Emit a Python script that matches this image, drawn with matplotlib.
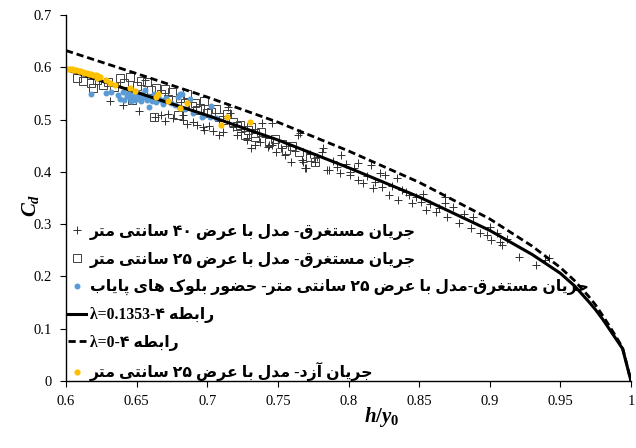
import matplotlib
matplotlib.use("Agg")
import matplotlib.pyplot as plt
from matplotlib.font_manager import FontProperties

# ---------------- data ----------------
curve_x = [0.6, 0.65, 0.7, 0.75, 0.8, 0.85, 0.9, 0.93, 0.95, 0.96, 0.97, 0.975, 0.98, 0.985, 0.99, 0.994, 1.0]
curve_l1353 = [0.596, 0.552, 0.508, 0.461, 0.408, 0.352, 0.288, 0.242, 0.206, 0.182, 0.152, 0.136, 0.118, 0.098, 0.078, 0.062, 0.0]
curve_l0 = [0.632, 0.588, 0.543, 0.495, 0.440, 0.380, 0.310, 0.258, 0.217, 0.192, 0.162, 0.145, 0.125, 0.104, 0.082, 0.064, 0.0]

sub40_x = [0.631, 0.640, 0.652, 0.656, 0.663, 0.667, 0.670, 0.672, 0.676, 0.683, 0.683, 0.686, 0.690,
           0.693, 0.697, 0.698, 0.701, 0.704, 0.708, 0.711, 0.715, 0.716, 0.718, 0.721, 0.724, 0.728,
           0.728, 0.731, 0.734, 0.737, 0.739, 0.741, 0.743, 0.744, 0.746, 0.746, 0.749, 0.752, 0.755,
           0.759, 0.762, 0.764, 0.766, 0.767, 0.768, 0.769, 0.770, 0.773, 0.776, 0.778, 0.781, 0.782,
           0.785, 0.786, 0.789, 0.792, 0.794, 0.795, 0.798, 0.801, 0.801, 0.804, 0.807, 0.807, 0.810,
           0.813, 0.816, 0.817, 0.819, 0.822, 0.824, 0.826, 0.829, 0.831, 0.834, 0.835, 0.838, 0.841,
           0.843, 0.845, 0.848, 0.851, 0.853, 0.855, 0.858, 0.862, 0.864, 0.868, 0.868, 0.870, 0.874,
           0.878, 0.882, 0.887, 0.888, 0.893, 0.898, 0.900, 0.901, 0.905, 0.907, 0.909, 0.912, 0.921,
           0.933, 0.939, 0.942]
sub40_y = [0.536, 0.528, 0.517, 0.576, 0.505, 0.508, 0.497, 0.511, 0.503, 0.499, 0.509, 0.492, 0.496,
           0.489, 0.486, 0.480, 0.488, 0.478, 0.470, 0.477, 0.524, 0.512, 0.486, 0.470, 0.476, 0.465,
           0.461, 0.445, 0.452, 0.458, 0.493, 0.467, 0.448, 0.451, 0.493, 0.451, 0.438, 0.446, 0.432,
           0.419, 0.440, 0.470, 0.474, 0.423, 0.419, 0.407, 0.407, 0.435, 0.418, 0.428, 0.438, 0.445,
           0.403, 0.403, 0.420, 0.410, 0.397, 0.432, 0.415, 0.394, 0.400, 0.408, 0.416, 0.384, 0.379,
           0.392, 0.413, 0.369, 0.380, 0.398, 0.371, 0.394, 0.356, 0.372, 0.388, 0.346, 0.366, 0.362,
           0.356, 0.340, 0.351, 0.343, 0.358, 0.327, 0.338, 0.324, 0.331, 0.352, 0.340, 0.314, 0.332,
           0.302, 0.320, 0.292, 0.314, 0.283, 0.279, 0.295, 0.270, 0.284, 0.266, 0.260, 0.272, 0.238,
           0.222, 0.231, 0.236]

sub25_x = [0.608, 0.612, 0.618, 0.619, 0.622, 0.626, 0.630, 0.634, 0.638, 0.641, 0.645, 0.647, 0.650,
           0.653, 0.657, 0.660, 0.662, 0.664, 0.667, 0.670, 0.672, 0.675, 0.679, 0.681, 0.684, 0.686,
           0.689, 0.691, 0.693, 0.695, 0.698, 0.700, 0.703, 0.706, 0.708, 0.711, 0.714, 0.718, 0.721,
           0.723, 0.727, 0.729, 0.731, 0.734, 0.734, 0.738, 0.744, 0.748, 0.753, 0.756, 0.760, 0.765,
           0.773, 0.776]
sub25_y = [0.579, 0.574, 0.569, 0.560, 0.576, 0.566, 0.572, 0.563, 0.579, 0.570, 0.582, 0.537, 0.565,
           0.574, 0.572, 0.556, 0.505, 0.561, 0.548, 0.559, 0.540, 0.552, 0.509, 0.541, 0.531, 0.548,
           0.525, 0.531, 0.518, 0.522, 0.536, 0.512, 0.515, 0.521, 0.505, 0.499, 0.511, 0.496, 0.488,
           0.489, 0.470, 0.480, 0.486, 0.474, 0.467, 0.476, 0.458, 0.462, 0.454, 0.442, 0.449, 0.438,
           0.429, 0.419]

blocks_x = [0.618, 0.628, 0.632, 0.637, 0.638, 0.640, 0.641, 0.643, 0.644, 0.645, 0.646, 0.647, 0.648,
            0.649, 0.650, 0.651, 0.652, 0.653, 0.654, 0.655, 0.656, 0.657, 0.658, 0.659, 0.660, 0.661,
            0.662, 0.663, 0.664, 0.665, 0.667, 0.669, 0.671, 0.674, 0.677, 0.679, 0.680, 0.681, 0.682,
            0.684, 0.688, 0.690, 0.696, 0.697, 0.702, 0.703, 0.706]
blocks_y = [0.548, 0.551, 0.552, 0.547, 0.540, 0.552, 0.537, 0.545, 0.550, 0.541, 0.535, 0.548, 0.543,
            0.538, 0.552, 0.546, 0.540, 0.535, 0.549, 0.543, 0.556, 0.538, 0.546, 0.524, 0.541, 0.535,
            0.548, 0.540, 0.533, 0.544, 0.538, 0.530, 0.541, 0.532, 0.528, 0.544, 0.524, 0.548, 0.549,
            0.520, 0.540, 0.513, 0.505, 0.507, 0.504, 0.526, 0.503]

free_x = [0.601, 0.603, 0.604, 0.606, 0.607, 0.609, 0.610, 0.612, 0.613, 0.615, 0.616, 0.618, 0.619,
          0.621, 0.623, 0.624, 0.622, 0.628, 0.631, 0.635, 0.645, 0.649, 0.664, 0.665, 0.672, 0.681,
          0.686, 0.714, 0.710, 0.730]
free_y = [0.597, 0.596, 0.596, 0.595, 0.594, 0.593, 0.592, 0.591, 0.590, 0.589, 0.588, 0.587, 0.586,
          0.585, 0.583, 0.582, 0.580, 0.576, 0.570, 0.566, 0.560, 0.555, 0.544, 0.548, 0.536, 0.523,
          0.531, 0.505, 0.489, 0.496]

labels = [
    "جریان مستغرق- مدل با عرض ۴۰ سانتی متر",
    "جریان مستغرق- مدل با عرض ۲۵ سانتی متر",
    "جریان مستغرق-مدل با عرض ۲۵ سانتی متر- حضور بلوک های پایاب",
    "رابطه ۴-λ=0.1353",
    "رابطه ۴-λ=0",
    "جریان آزد- مدل با عرض ۲۵ سانتی متر",
]
x_ticks = [0.6, 0.65, 0.7, 0.75, 0.8, 0.85, 0.9, 0.95, 1.0]
y_ticks = [0, 0.1, 0.2, 0.3, 0.4, 0.5, 0.6, 0.7]

# ---------------- simple Arabic shaping + visual ordering ----------------
FORMS = {  # isolated, final, initial, medial
    'ا': (0xFE8D, 0xFE8E, None, None), 'آ': (0xFE81, 0xFE82, None, None),
    'ب': (0xFE8F, 0xFE90, 0xFE91, 0xFE92), 'ت': (0xFE95, 0xFE96, 0xFE97, 0xFE98),
    'ج': (0xFE9D, 0xFE9E, 0xFE9F, 0xFEA0), 'ح': (0xFEA1, 0xFEA2, 0xFEA3, 0xFEA4),
    'د': (0xFEA9, 0xFEAA, None, None), 'ر': (0xFEAD, 0xFEAE, None, None),
    'ز': (0xFEAF, 0xFEB0, None, None), 'س': (0xFEB1, 0xFEB2, 0xFEB3, 0xFEB4),
    'ض': (0xFEBD, 0xFEBE, 0xFEBF, 0xFEC0), 'ط': (0xFEC1, 0xFEC2, 0xFEC3, 0xFEC4),
    'ع': (0xFEC9, 0xFECA, 0xFECB, 0xFECC), 'غ': (0xFECD, 0xFECE, 0xFECF, 0xFED0),
    'ق': (0xFED5, 0xFED6, 0xFED7, 0xFED8), 'ل': (0xFEDD, 0xFEDE, 0xFEDF, 0xFEE0),
    'م': (0xFEE1, 0xFEE2, 0xFEE3, 0xFEE4), 'ن': (0xFEE5, 0xFEE6, 0xFEE7, 0xFEE8),
    'ه': (0xFEE9, 0xFEEA, 0xFEEB, 0xFEEC), 'و': (0xFEED, 0xFEEE, None, None),
    'پ': (0xFB56, 0xFB57, 0xFB58, 0xFB59), 'ک': (0xFB8E, 0xFB8F, 0xFB90, 0xFB91),
    'ی': (0xFBFC, 0xFBFD, 0xFBFE, 0xFBFF),
}


def dual(c):
    return c in FORMS and FORMS[c][2] is not None


def shape(s):
    out = []
    for i, c in enumerate(s):
        if c not in FORMS:
            out.append(c)
            continue
        prev = s[i - 1] if i > 0 else ''
        nxt = s[i + 1] if i + 1 < len(s) else ''
        jp = dual(prev)
        jn = dual(c) and nxt in FORMS
        f = FORMS[c]
        if jp and jn:
            code = f[3]
        elif jp:
            code = f[1]
        elif jn:
            code = f[2]
        else:
            code = f[0]
        out.append(chr(code))
    return ''.join(out)


def is_ltr(c):
    return (c.isascii() and (c.isalnum() or c in '.=')) or ('\u0370' <= c <= '\u03ff') or ('\u06f0' <= c <= '\u06f9')


def visual(s):
    s = shape(s)
    runs = []
    for c in s:
        t = is_ltr(c)
        if runs and runs[-1][0] == t:
            runs[-1][1].append(c)
        else:
            runs.append([t, [c]])
    parts = []
    for t, chars in reversed(runs):
        parts.append(''.join(chars) if t else ''.join(reversed(chars)))
    return ''.join(parts)


# ---------------- figure ----------------
plt.rcParams['mathtext.fontset'] = 'custom'
plt.rcParams['mathtext.it'] = 'Liberation Serif:italic:bold'
plt.rcParams['mathtext.rm'] = 'Liberation Serif:bold'

fig = plt.figure(figsize=(6.36, 4.48), dpi=100)
ax = fig.add_axes([66 / 636, 1 - 381 / 448, 565 / 636, 366 / 448])

ax.plot(sub40_x, sub40_y, linestyle='none', marker='+', markersize=5.5, markeredgewidth=0.7,
        color='#303030', label=visual(labels[0]))
ax.plot(sub25_x, sub25_y, linestyle='none', marker='s', markersize=5.5, markeredgewidth=0.7,
        markerfacecolor='none', markeredgecolor='#404040', label=visual(labels[1]))
ax.plot(blocks_x, blocks_y, linestyle='none', marker='o', markersize=4.3, markeredgewidth=0,
        color='#5B9BD5', label=visual(labels[2]))
ax.plot(curve_x, curve_l1353, color='black', linewidth=2.2, label=visual(labels[3]))
ax.plot(curve_x, curve_l0, color='black', linewidth=2.0, linestyle=(0, (2.6, 1.4)), label=visual(labels[4]))
ax.plot(free_x, free_y, linestyle='none', marker='o', markersize=4.5, markeredgewidth=0,
        color='#FFC000', label=visual(labels[5]))

ax.set_xlim(0.6, 1.0)
ax.set_ylim(0, 0.7)
ax.set_xticks(x_ticks)
ax.set_yticks(y_ticks)
ax.set_xticklabels(['%g' % v for v in x_ticks])
ax.set_yticklabels(['%g' % v for v in y_ticks])
for s in ('top', 'right'):
    ax.spines[s].set_visible(False)
for s in ('left', 'bottom'):
    ax.spines[s].set_linewidth(1.0)
ax.tick_params(direction='out', length=4, width=0.8, labelsize=10.5, pad=6)
for lab in ax.get_xticklabels() + ax.get_yticklabels():
    lab.set_family('Liberation Serif')

ax.set_xlabel(r'$h/y_0$', fontsize=15)
ax.set_ylabel(r'$C_d$', fontsize=15)
ax.xaxis.set_label_coords((382 - 66) / 565, -0.065)
ax.yaxis.set_label_coords(-0.045, 0.48)

prop = FontProperties(family=['Liberation Serif', 'DejaVu Sans'], weight='bold', size=11.3)
leg = ax.legend(loc='lower left', bbox_to_anchor=(0.0, -0.005), frameon=False, prop=prop,
                handlelength=1.2, handletextpad=0.2, labelspacing=0.74, borderaxespad=0.0,
                borderpad=0.1, markerscale=1.0)

fig.savefig('out.png', dpi=100)
